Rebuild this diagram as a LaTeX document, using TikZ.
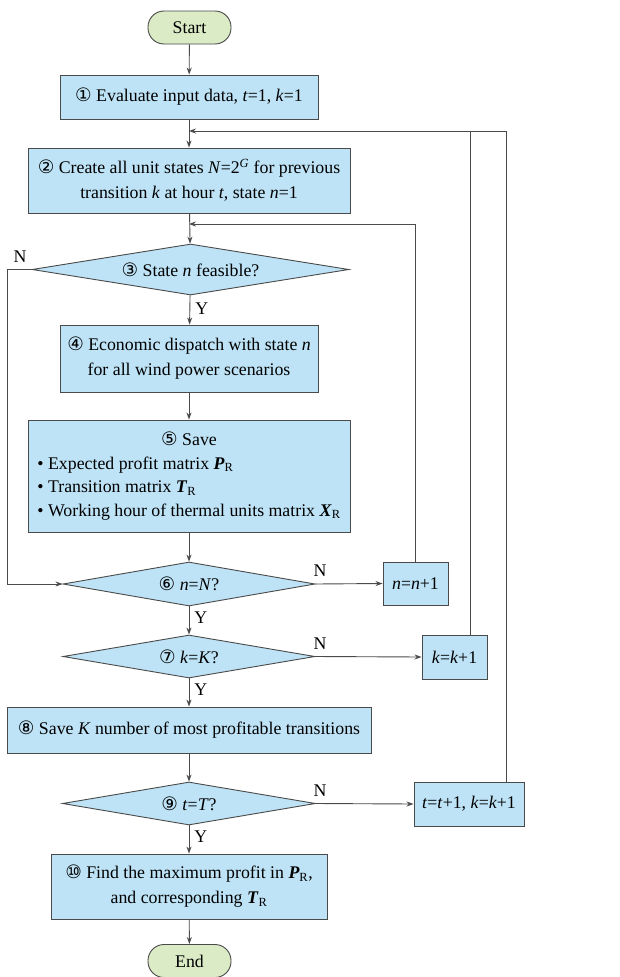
\documentclass[tikz,border=0pt]{standalone}
\usepackage{fontspec}
\setmainfont{Liberation Serif}
\newfontfamily\circfont{DejaVu Sans}
\usetikzlibrary{shapes.geometric,arrows.meta}
\definecolor{boxblue}{HTML}{BEE3F6}
\definecolor{termgreen}{HTML}{DAEBC6}
\definecolor{edgecol}{HTML}{4A4A4A}
\newcommand{\cn}[1]{{\circfont\fontsize{18.5}{25}\selectfont #1}}
\newcommand{\iv}[1]{\textit{#1}}
\newcommand{\bv}[1]{\textbf{\textit{#1}}\textsubscript{R}}
\begin{document}
\begin{tikzpicture}[x=1pt,y=-1pt,
  every node/.style={font=\fontsize{17.8}{25}\selectfont, text=black},
  proc/.style={draw=edgecol, fill=boxblue, line width=0.9pt, rectangle, inner sep=0pt, align=center},
  term/.style={draw=edgecol, fill=termgreen, line width=0.9pt, rectangle, rounded corners=16pt, inner sep=0pt, minimum width=83pt, minimum height=33pt},
  dec/.style={draw=edgecol, fill=boxblue, line width=0.9pt, diamond, inner sep=0pt},
  conn/.style={draw=edgecol, line width=0.9pt, -{Stealth[length=7pt,width=5pt]}},
  line/.style={draw=edgecol, line width=0.9pt},
  yn/.style={inner sep=0pt}]
\useasboundingbox (0,0) rectangle (620,977);

% nodes
\node[term] (start) at (189.5,27.5) {Start};
\node[proc, minimum width=258pt, minimum height=44pt] (b1) at (189,97) {\cn{①} Evaluate input data, \iv{t}=1, \iv{k}=1};
\node[proc, minimum width=322pt, minimum height=65pt] (b2) at (189,180.5) {\cn{②} Create all unit states \iv{N}=2\textsuperscript{\iv{G}} for previous\\ transition \iv{k} at hour \iv{t}, state \iv{n}=1};
\node[dec, minimum width=317pt, minimum height=51pt] (d3) at (190.5,269.5) {};
\node at (d3) {\cn{③} State \iv{n} feasible?};
\node[proc, minimum width=258pt, minimum height=67pt] (b4) at (189,358.5) {\cn{④} Economic dispatch with state \iv{n}\\ for all wind power scenarios};
\node[proc, minimum width=322pt, minimum height=112pt] (b5) at (189,476) {\begin{tabular}{@{}l@{}}\multicolumn{1}{@{}c@{}}{\cn{⑤} Save}\\[-1.5pt] • Expected profit matrix \bv{P}\\[-1.5pt] • Transition matrix \bv{T}\\[-1.5pt] • Working hour of thermal units matrix \bv{X}\end{tabular}};
\node[dec, minimum width=252pt, minimum height=44pt] (d6) at (189,584) {};
\node at (d6) {\cn{⑥} \iv{n}=\iv{N}?};
\node[proc, minimum width=65pt, minimum height=43pt] (bn) at (415.5,583.5) {\iv{n}=\iv{n}+1};
\node[dec, minimum width=252pt, minimum height=43pt] (d7) at (189,656.5) {};
\node at (d7) {\cn{⑦} \iv{k}=\iv{K}?};
\node[proc, minimum width=65pt, minimum height=44pt] (bk) at (454.5,657) {\iv{k}=\iv{k}+1};
\node[proc, minimum width=364pt, minimum height=46pt] (b8) at (189,730) {\cn{⑧} Save \iv{K} number of most profitable transitions};
\node[dec, minimum width=253pt, minimum height=43pt] (d9) at (189,803.5) {};
\node at (d9) {\cn{⑨} \iv{t}=\iv{T}?};
\node[proc, minimum width=110pt, minimum height=44pt] (bt) at (469,804) {\iv{t}=\iv{t}+1, \iv{k}=\iv{k}+1};
\node[proc, minimum width=276pt, minimum height=65pt] (b10) at (189,886.5) {\cn{⑩} Find the maximum profit in \bv{P},\\ and corresponding \bv{T}};
\node[term] (end) at (189.5,961) {End};

% helper coordinates
\coordinate (j1) at (189,131);
\coordinate (j2) at (189,224);
\coordinate (lx) at (7,0);
\coordinate (kx) at (470,0);
\coordinate (tx) at (506,0);

% main flow
\draw[conn] (start) -- (b1);
\draw[conn] (b1) -- (b2);
\draw[conn] (b2) -- (d3);
\draw[conn] (d3) -- node[yn, right, xshift=5pt, pos=0.45]{Y} (b4);
\draw[conn] (b4) -- (b5);
\draw[conn] (b5) -- (d6);
\draw[conn] (d6) -- node[yn, right, xshift=5pt, pos=0.4]{Y} (d7);
\draw[conn] (d7) -- node[yn, right, xshift=5pt, pos=0.4]{Y} (b8);
\draw[conn] (b8) -- (d9);
\draw[conn] (d9) -- node[yn, right, xshift=5pt, pos=0.4]{Y} (b10);
\draw[conn] (b10) -- (end);

% no-branches
\draw[conn] (d3.west) -- (d3.west -| lx) |- (d6.west);
\node[yn] at (20,257) {N};
\draw[conn] (d6.east) -- (bn.west);
\node[yn] at (320,571) {N};
\draw[conn] (d7.east) -- (bk.west);
\node[yn] at (320,644) {N};
\draw[conn] (d9.east) -- (bt.west);
\node[yn] at (320,791) {N};

% loop backs
\draw[conn] (bn.north) |- (j2);
\draw[line] (bk.north -| kx) -- (kx |- j1);
\draw[conn] (bt.north -| tx) |- (j1);
\end{tikzpicture}
\end{document}
